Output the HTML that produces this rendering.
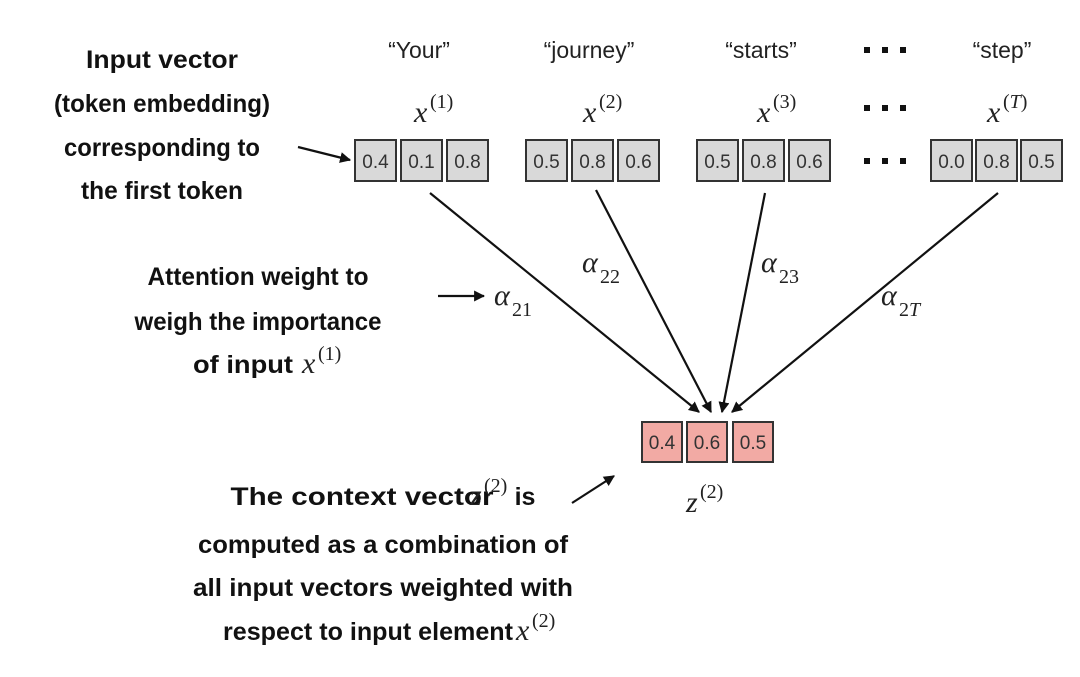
<!DOCTYPE html>
<html><head><meta charset="utf-8"><style>
html,body{margin:0;padding:0;background:#fff;}
svg{display:block;}
.b{font-family:"Liberation Sans Narrow","Liberation Sans",sans-serif;font-weight:bold;font-size:25px;fill:#111;}
.q{font-family:"Liberation Sans",sans-serif;font-size:23px;fill:#222;}
.m{font-family:"Liberation Serif",serif;font-style:italic;font-size:30px;fill:#222;}
.s{font-family:"Liberation Serif",serif;font-size:20px;fill:#222;}
.n{font-family:"Liberation Sans",sans-serif;font-size:19px;fill:#333;}
</style></head><body>
<svg width="1080" height="677" viewBox="0 0 1080 677" xmlns="http://www.w3.org/2000/svg">
<defs>
<marker id="ah" viewBox="0 0 10 10" refX="9" refY="5" markerWidth="5" markerHeight="5" orient="auto"><path d="M0,0 L10,5 L0,10 z" fill="#111"/></marker>
</defs>
<!-- left labels -->
<g class="b" text-anchor="middle">
<text x="162" y="68" textLength="152" lengthAdjust="spacingAndGlyphs">Input vector</text>
<text x="162" y="112" textLength="216" lengthAdjust="spacingAndGlyphs">(token embedding)</text>
<text x="162" y="156" textLength="196" lengthAdjust="spacingAndGlyphs">corresponding to</text>
<text x="162" y="199" textLength="162" lengthAdjust="spacingAndGlyphs">the first token</text>
<text x="258" y="285" textLength="221" lengthAdjust="spacingAndGlyphs">Attention weight to</text>
<text x="258" y="330" textLength="247" lengthAdjust="spacingAndGlyphs">weigh the importance</text>
<text x="243" y="373" textLength="100" lengthAdjust="spacingAndGlyphs">of input</text>
<text x="362" y="505" textLength="263" lengthAdjust="spacingAndGlyphs">The context vector</text>
<text x="525" y="505">is</text>
<text x="383" y="553" textLength="370" lengthAdjust="spacingAndGlyphs">computed as a combination of</text>
<text x="383" y="596" textLength="380" lengthAdjust="spacingAndGlyphs">all input vectors weighted with</text>
<text x="368" y="640" textLength="290" lengthAdjust="spacingAndGlyphs">respect to input element</text>
</g>
<text class="m" x="302" y="373">x</text><text class="s" x="318" y="360">(1)</text>
<text class="m" x="470" y="505">z</text><text class="s" x="484" y="492">(2)</text>
<text class="m" x="516" y="640">x</text><text class="s" x="532" y="627">(2)</text>

<!-- token words -->
<g class="q" text-anchor="middle">
<text x="419" y="58">“Your”</text>
<text x="589" y="58">“journey”</text>
<text x="761" y="58">“starts”</text>
<text x="1002" y="58">“step”</text>
</g>
<g fill="#111">
<rect x="864" y="47" width="6" height="6"/><rect x="882" y="47" width="6" height="6"/><rect x="900" y="47" width="6" height="6"/>
<rect x="864" y="105" width="6" height="6"/><rect x="882" y="105" width="6" height="6"/><rect x="900" y="105" width="6" height="6"/>
<rect x="864" y="158" width="6" height="6"/><rect x="882" y="158" width="6" height="6"/><rect x="900" y="158" width="6" height="6"/>
</g>
<!-- x labels -->
<text class="m" x="414" y="122">x</text><text class="s" x="430" y="108">(1)</text>
<text class="m" x="583" y="122">x</text><text class="s" x="599" y="108">(2)</text>
<text class="m" x="757" y="122">x</text><text class="s" x="773" y="108">(3)</text>
<text class="m" x="987" y="122">x</text><text class="s" x="1003" y="108">(<tspan font-style="italic">T</tspan>)</text>

<!-- input boxes -->
<g stroke="#333" stroke-width="2" fill="#d9d9d9">
<rect x="355" y="140" width="41" height="41"/><rect x="401" y="140" width="41" height="41"/><rect x="447" y="140" width="41" height="41"/>
<rect x="526" y="140" width="41" height="41"/><rect x="572" y="140" width="41" height="41"/><rect x="618" y="140" width="41" height="41"/>
<rect x="697" y="140" width="41" height="41"/><rect x="743" y="140" width="41" height="41"/><rect x="789" y="140" width="41" height="41"/>
<rect x="931" y="140" width="41" height="41"/><rect x="976" y="140" width="41" height="41"/><rect x="1021" y="140" width="41" height="41"/>
</g>
<g class="n" text-anchor="middle">
<text x="375.5" y="168">0.4</text><text x="421.5" y="168">0.1</text><text x="467.5" y="168">0.8</text>
<text x="546.5" y="168">0.5</text><text x="592.5" y="168">0.8</text><text x="638.5" y="168">0.6</text>
<text x="717.5" y="168">0.5</text><text x="763.5" y="168">0.8</text><text x="809.5" y="168">0.6</text>
<text x="951.5" y="168">0.0</text><text x="996.5" y="168">0.8</text><text x="1041.5" y="168">0.5</text>
</g>
<!-- output -->
<g stroke="#333" stroke-width="2" fill="#f2aaa4">
<rect x="642" y="422" width="40" height="40"/><rect x="687" y="422" width="40" height="40"/><rect x="733" y="422" width="40" height="40"/>
</g>
<g class="n" text-anchor="middle" fill="#3a1a1a">
<text x="662" y="449">0.4</text><text x="707" y="449">0.6</text><text x="753" y="449">0.5</text>
</g>
<text class="m" x="686" y="512">z</text><text class="s" x="700" y="498">(2)</text>

<!-- arrows -->
<g stroke="#111" stroke-width="2.2" fill="none" marker-end="url(#ah)">
<line x1="430" y1="193" x2="699" y2="412"/>
<line x1="596" y1="190" x2="711" y2="412"/>
<line x1="765" y1="193" x2="722" y2="412"/>
<line x1="998" y1="193" x2="732" y2="412"/>
<line x1="298" y1="147" x2="350" y2="160"/>
<line x1="438" y1="296" x2="484" y2="296"/>
<line x1="572" y1="503" x2="614" y2="476"/>
</g>
<!-- alphas -->
<text class="m" x="494" y="305">α</text><text class="s" x="512" y="316">21</text>
<text class="m" x="582" y="272">α</text><text class="s" x="600" y="283">22</text>
<text class="m" x="761" y="272">α</text><text class="s" x="779" y="283">23</text>
<text class="m" x="881" y="305">α</text><text class="s" x="899" y="316">2<tspan font-style="italic">T</tspan></text>
</svg>
</body></html>
